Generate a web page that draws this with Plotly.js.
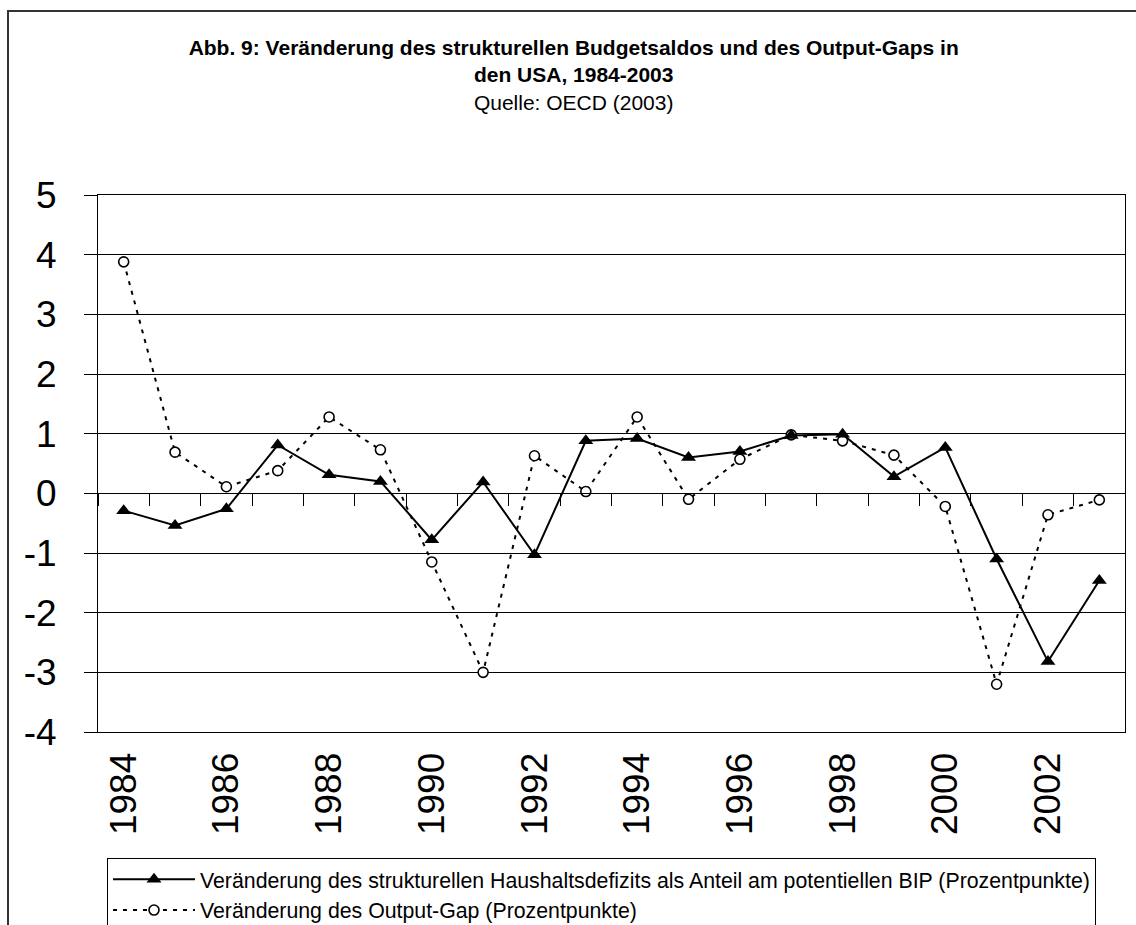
<!DOCTYPE html>
<html>
<head>
<meta charset="utf-8">
<script src="https://cdn.plot.ly/plotly-3.0.1.min.js"></script>
<style>
html,body{margin:0;padding:0;background:#fff;overflow:hidden;}
#chart{width:1136px;height:925px;}
</style>
</head>
<body>
<div id="chart"></div>
<script>
// Data
var years = ['1984','1985','1986','1987','1988','1989','1990','1991','1992','1993',
             '1994','1995','1996','1997','1998','1999','2000','2001','2002','2003'];
var structuralDeficitChange = [-0.29,-0.54,-0.26,0.81,0.31,0.2,-0.78,0.19,-1.03,0.88,
                               0.92,0.6,0.7,0.97,0.99,0.28,0.77,-1.1,-2.82,-1.46];
var outputGapChange = [3.88,0.69,0.11,0.38,1.28,0.73,-1.15,-3.0,0.63,0.03,
                       1.28,-0.1,0.57,0.98,0.88,0.64,-0.22,-3.2,-0.36,-0.11];
var seriesNames = [
  'Veränderung des strukturellen Haushaltsdefizits als Anteil am potentiellen BIP (Prozentpunkte)',
  'Veränderung des Output-Gap (Prozentpunkte)'
];
var yTicks = [-4,-3,-2,-1,0,1,2,3,4,5];

var W = 1136, H = 925;
var mL = 98, mR = 11, mT = 195, mB = 193;
var pw = W - mL - mR, ph = H - mT - mB;
function px2paperX(px){ return (px - mL) / pw; }
function px2paperY(py){ return (H - mB - py) / ph; }

var FONT = 'Arial, "Liberation Sans", sans-serif';

var traces = [
  {
    x: years, y: structuralDeficitChange, name: seriesNames[0],
    type: 'scatter', mode: 'lines+markers', xaxis: 'x2', yaxis: 'y',
    line: {color: '#000', width: 2},
    marker: {symbol: 'triangle-up', size: 13, color: '#000', line: {width: 0}}
  },
  {
    x: years, y: outputGapChange, name: seriesNames[1],
    type: 'scatter', mode: 'lines+markers', xaxis: 'x', yaxis: 'y',
    line: {color: '#000', width: 2, dash: '4px,6px'},
    marker: {symbol: 'circle', size: 10, color: '#fff', line: {color: '#000', width: 1.6}}
  }
];

var layout = {
  width: W, height: H,
  margin: {l: mL, r: mR, t: mT, b: mB, pad: 0, autoexpand: false},
  paper_bgcolor: '#fff', plot_bgcolor: '#fff',
  font: {family: FONT, color: '#000'},
  showlegend: true,
  title: {
    text: '<b>Abb. 9: Veränderung des strukturellen Budgetsaldos und des Output-Gaps in<br>den USA, 1984-2003</b><br>Quelle: OECD (2003)',
    font: {family: FONT, size: 21, color: '#000'},
    x: 0.505, xref: 'container', xanchor: 'center',
    y: 1 - 55 / H, yref: 'container', yanchor: 'top'
  },
  xaxis: {
    type: 'category', categoryorder: 'array', categoryarray: years,
    range: [-0.5, years.length - 0.5],
    showgrid: false, zeroline: false,
    showline: true, linecolor: '#000', linewidth: 1, mirror: true,
    ticks: '', dtick: 2, tickangle: -90,
    tickfont: {family: FONT, size: 37, color: '#000'},
    ticklabelstandoff: 5,
    fixedrange: true
  },
  xaxis2: {
    type: 'category', categoryorder: 'array', categoryarray: years,
    range: [-0.5, years.length - 0.5],
    overlaying: 'x', anchor: 'free', position: 4 / 9, side: 'bottom',
    showgrid: false, zeroline: false,
    showline: true, linecolor: '#000', linewidth: 1,
    ticks: 'outside', ticklen: 12, tickwidth: 1, tickcolor: '#000',
    tickson: 'boundaries', showticklabels: false,
    fixedrange: true
  },
  yaxis: {
    range: [-4, 5], tickvals: yTicks, ticktext: yTicks.map(String),
    showgrid: true, gridcolor: '#000', gridwidth: 1,
    zeroline: false,
    showline: true, linecolor: '#000', linewidth: 1, mirror: true,
    ticks: 'outside', ticklen: 13, tickwidth: 1, tickcolor: '#000',
    tickfont: {family: FONT, size: 37, color: '#000'},
    ticklabelstandoff: 20,
    fixedrange: true
  },
  legend: {
    x: px2paperX(107), xanchor: 'left',
    y: px2paperY(858), yanchor: 'top',
    orientation: 'v',
    bgcolor: '#fff', bordercolor: '#000', borderwidth: 1,
    font: {family: FONT, size: 21.3, color: '#000'},
    itemwidth: 82, tracegroupgap: 0
  },
  shapes: [
    {type: 'rect', xref: 'paper', yref: 'paper',
     x0: px2paperX(8), x1: px2paperX(1160),
     y0: px2paperY(960), y1: px2paperY(11),
     line: {color: '#333', width: 2}, fillcolor: 'rgba(0,0,0,0)', layer: 'below'}
  ]
};

Plotly.newPlot('chart', traces, layout, {displayModeBar: false, staticPlot: true});
</script>
</body>
</html>
